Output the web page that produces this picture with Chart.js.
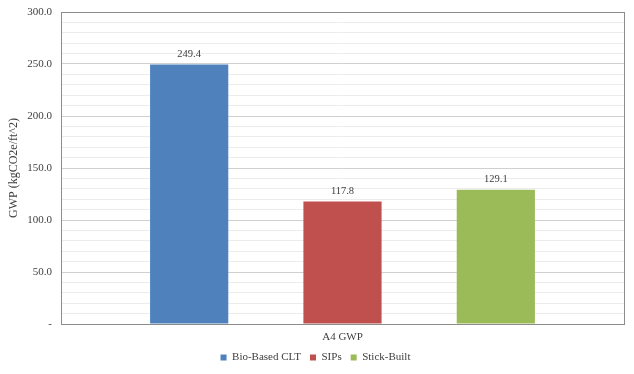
<!DOCTYPE html>
<html>
<head>
<meta charset="utf-8">
<script src="https://cdn.jsdelivr.net/npm/chart.js@4/dist/chart.umd.min.js"></script>
<style>
  html, body { margin: 0; padding: 0; background: #fff; }
  #wrap { width: 634px; height: 374px; position: relative; }
</style>
</head>
<body>
<div id="wrap"><canvas id="gwpChart"></canvas></div>
<script>
'use strict';

// --- data ---
const CATEGORIES = ['A4 GWP'];
const SERIES_NAMES = ['Bio-Based CLT', 'SIPs', 'Stick-Built'];
const CLT_VALUES = [249.4];
const SIP_VALUES = [117.8];
const STICK_VALUES = [129.1];
const Y_TICK_MAJOR = 50;

const FONT = "'Liberation Serif', 'Times New Roman', serif";
const TEXT = '#404040';

// value labels above each bar
const barLabels = {
  id: 'barLabels',
  afterDatasetsDraw(chart) {
    const ctx = chart.ctx;
    ctx.save();
    ctx.font = '10.5px ' + FONT;
    ctx.fillStyle = TEXT;
    ctx.textAlign = 'center';
    ctx.textBaseline = 'bottom';
    chart.data.datasets.forEach((ds, i) => {
      chart.getDatasetMeta(i).data.forEach((bar, j) => {
        ctx.fillText(ds.data[j].toFixed(1), bar.x, bar.y - 5);
      });
    });
    ctx.restore();
  },
};

// plot area frame
const plotFrame = {
  id: 'plotFrame',
  afterDraw(chart) {
    const a = chart.chartArea;
    const ctx = chart.ctx;
    ctx.save();
    ctx.strokeStyle = '#8c8c8c';
    ctx.lineWidth = 1;
    ctx.strokeRect(Math.round(a.left) + 0.5, Math.round(a.top) + 0.5,
      Math.round(a.right - a.left), Math.round(a.bottom - a.top));
    ctx.restore();
  },
};

new Chart(document.getElementById('gwpChart').getContext('2d'), {
  type: 'bar',
  data: {
    labels: CATEGORIES,
    datasets: [
      { label: SERIES_NAMES[0], data: CLT_VALUES, backgroundColor: '#4f81bd' },
      { label: SERIES_NAMES[1], data: SIP_VALUES, backgroundColor: '#c0504d' },
      { label: SERIES_NAMES[2], data: STICK_VALUES, backgroundColor: '#9bbb59' },
    ],
  },
  options: {
    responsive: true,
    maintainAspectRatio: false,
    animation: false,
    categoryPercentage: 0.817,
    barPercentage: 0.51,
    layout: { padding: { top: 12, right: 10, left: 7, bottom: 1 } },
    plugins: {
      tooltip: { enabled: false },
      legend: {
        position: 'bottom',
        labels: {
          boxWidth: 6,
          boxHeight: 6,
          padding: 9,
          color: TEXT,
          font: { family: FONT, size: 11 },
        },
      },
    },
    scales: {
      x: {
        grid: { display: false, drawTicks: false },
        border: { display: false },
        afterFit: s => { s.height = 19; },
        ticks: { color: TEXT, font: { family: FONT, size: 11 }, padding: 7 },
      },
      y: {
        min: 0,
        max: 300,
        border: { display: false },
        afterFit: s => { s.width = 54; s.paddingTop = 0; s.paddingBottom = 0; },
        grid: {
          color: c => (c.tick && c.tick.value % Y_TICK_MAJOR === 0) ? '#d0d0d0' : '#ececec',
          drawTicks: false,
        },
        ticks: {
          stepSize: 10,
          autoSkip: false,
          padding: 9,
          color: TEXT,
          font: { family: FONT, size: 11 },
          callback: v => v % Y_TICK_MAJOR !== 0 ? '' : (v === 0 ? '-' : v.toFixed(1)),
        },
        title: {
          display: true,
          text: 'GWP (kgCO2e/ft^2)',
          color: TEXT,
          font: { family: FONT, size: 12 },
          padding: { top: 0, bottom: 0 },
        },
      },
    },
  },
  plugins: [barLabels, plotFrame],
});
</script>
</body>
</html>
